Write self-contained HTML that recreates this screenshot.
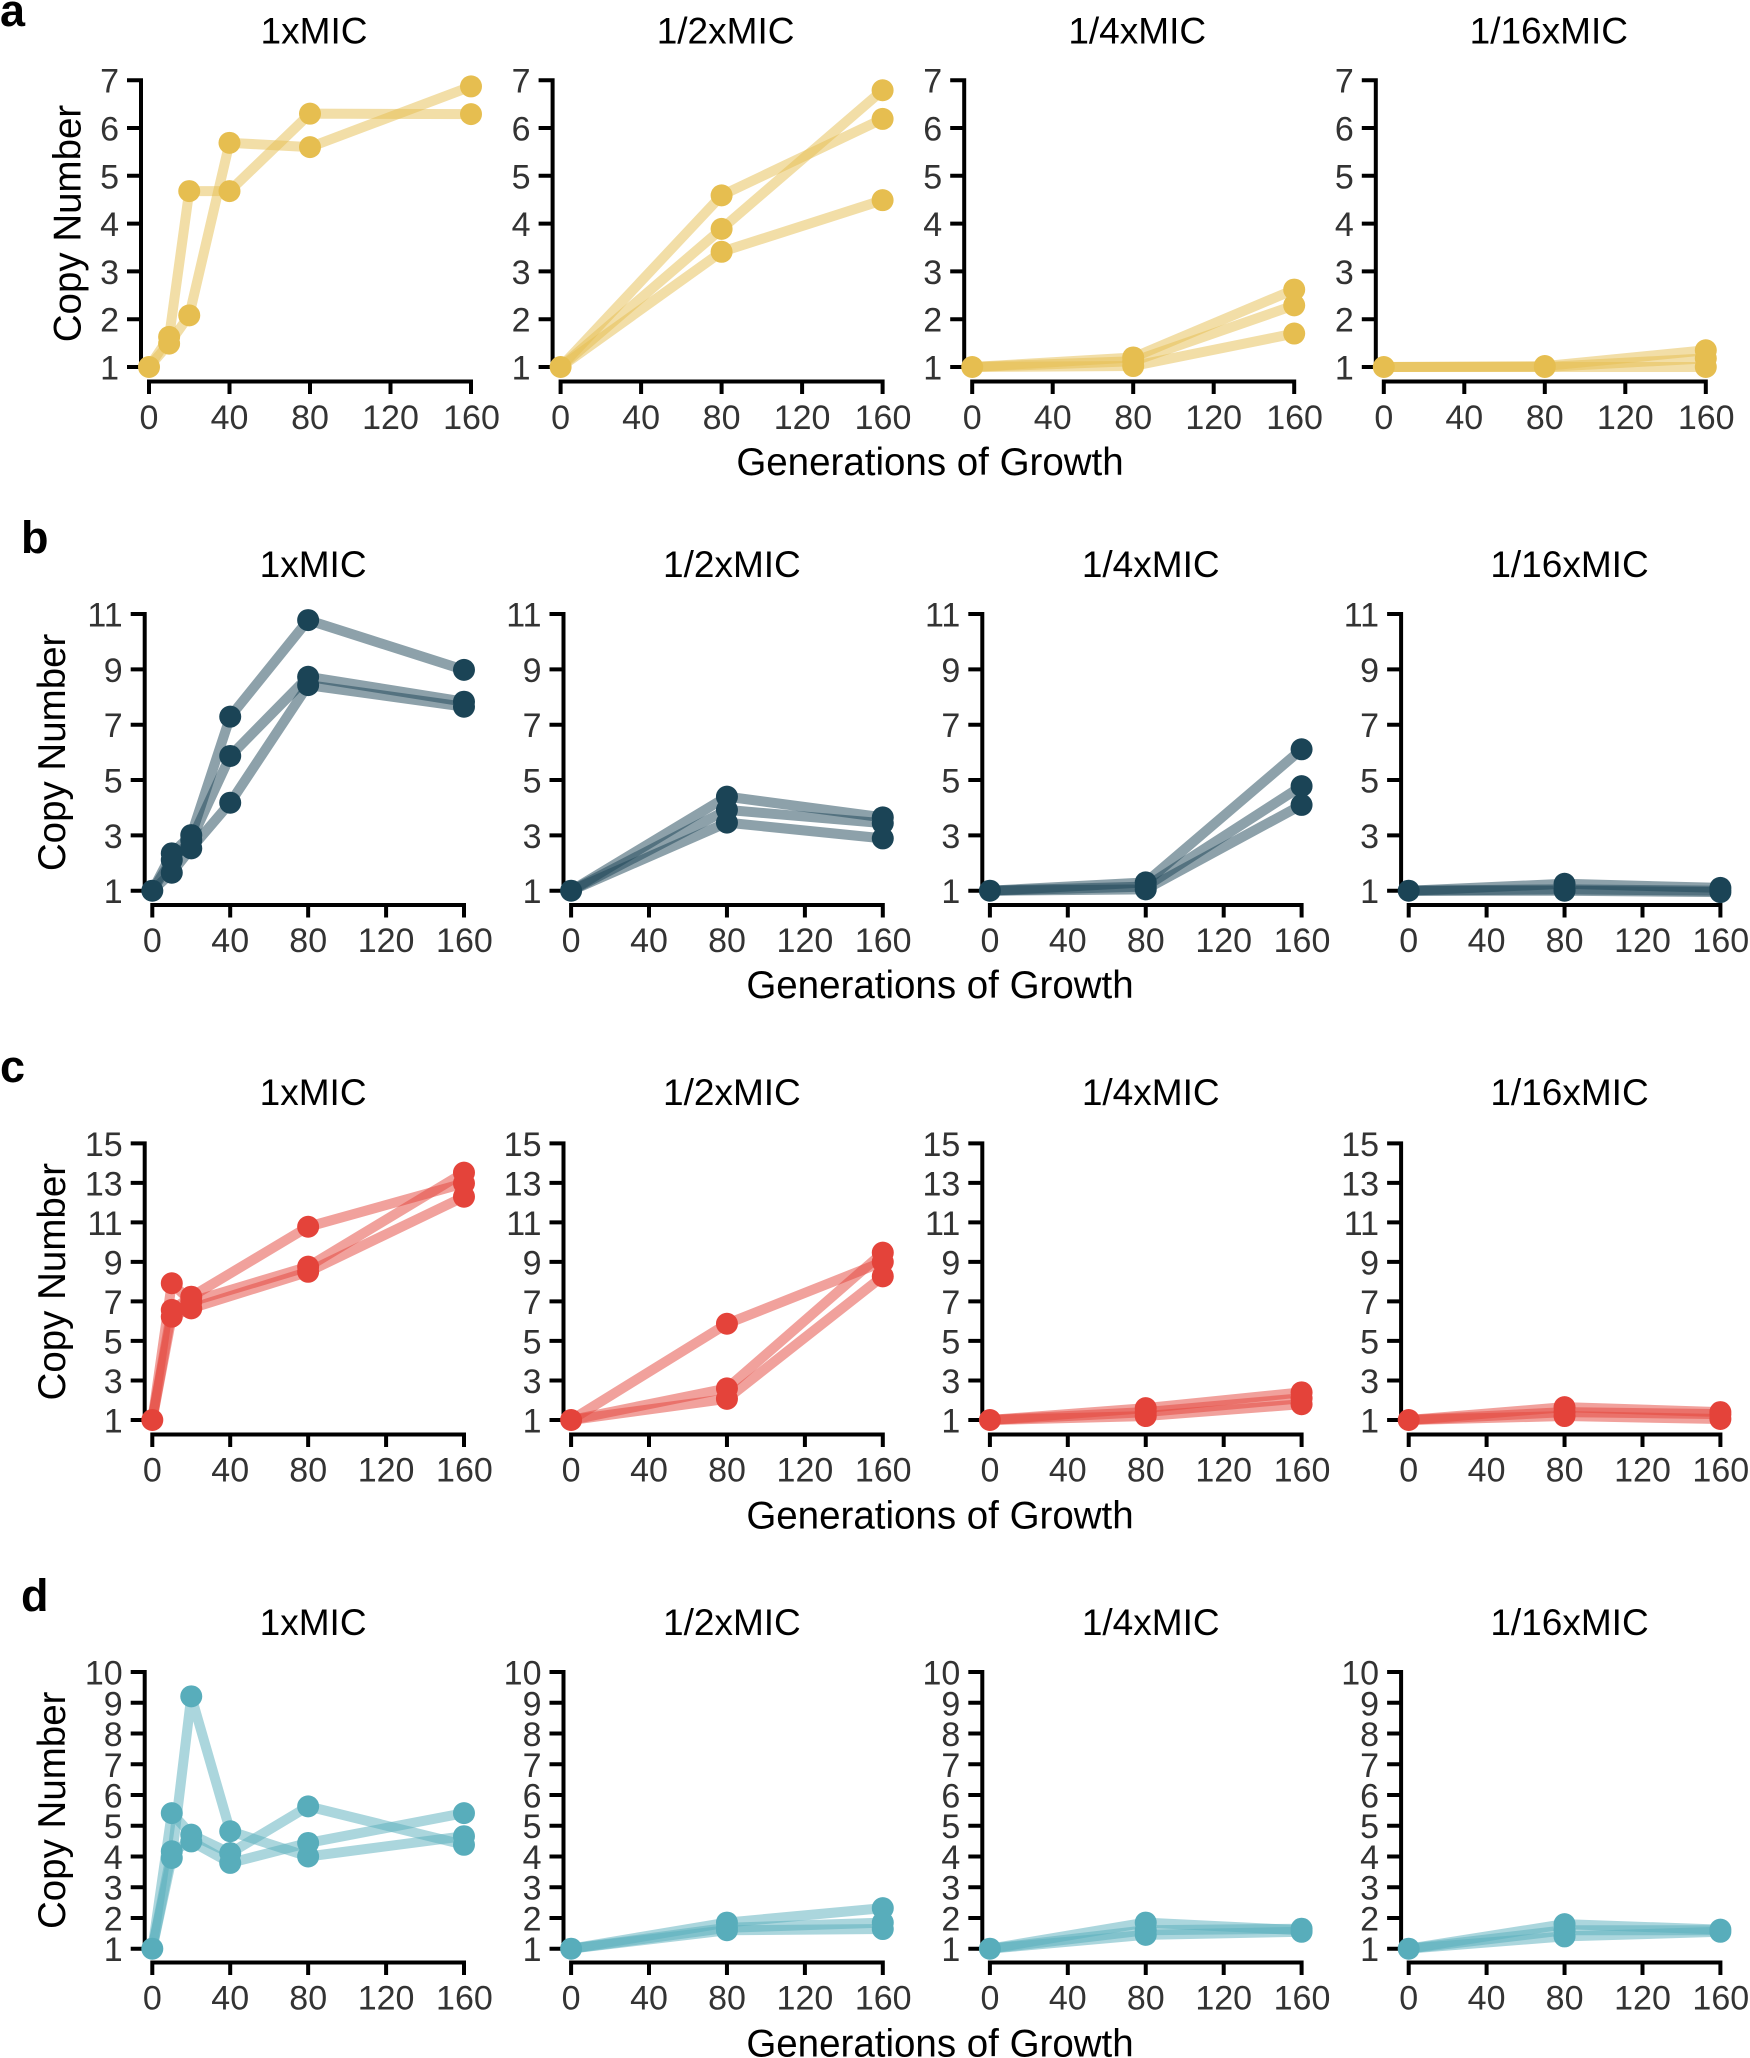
<!DOCTYPE html>
<html><head><meta charset="utf-8">
<style>
html,body{margin:0;padding:0;background:#fff}
svg{display:block}
.l{fill:none;stroke-width:10;stroke-opacity:.5;stroke-linejoin:round;stroke-linecap:round;vector-effect:non-scaling-stroke}
.m{fill:none;stroke-width:22;stroke-linecap:round;vector-effect:non-scaling-stroke}
.ax{fill:none;stroke:#000;stroke-width:4;stroke-linecap:square}
.t{font-family:"Liberation Sans",Arial,sans-serif;font-size:34px;fill:#333}
.ty{text-anchor:end}
.tx{text-anchor:middle}
.h{font-family:"Liberation Sans",Arial,sans-serif;font-size:37px;fill:#000;text-anchor:middle}
.g{font-family:"Liberation Sans",Arial,sans-serif;font-size:38.5px;fill:#000;text-anchor:middle}
.lab{font-family:"Liberation Sans",Arial,sans-serif;font-size:45px;font-weight:bold;fill:#000}
</style></head>
<body>
<svg width="1750" height="2058" viewBox="0 0 1750 2058" xmlns="http://www.w3.org/2000/svg">
<defs>
<path id="axA" class="ax" d="M-8 80.2V367 M-20 80.2H-8 M-20 128H-8 M-20 175.8H-8 M-20 223.6H-8 M-20 271.4H-8 M-20 319.2H-8 M-20 367H-8 M0 381.5H322 M0 381.5V392 M80.5 381.5V392 M161 381.5V392 M241.5 381.5V392 M322 381.5V392"/>
<path id="axB" class="ax" d="M-7.6 614V890.7 M-19.6 614H-7.6 M-19.6 669.4H-7.6 M-19.6 724.7H-7.6 M-19.6 780H-7.6 M-19.6 835.4H-7.6 M-19.6 890.7H-7.6 M0 905H311.7 M0 905V915.5 M77.9 905V915.5 M155.85 905V915.5 M233.8 905V915.5 M311.7 905V915.5"/>
<path id="axC" class="ax" d="M-7.6 1143.4V1420 M-19.6 1143.4H-7.6 M-19.6 1182.9H-7.6 M-19.6 1222.4H-7.6 M-19.6 1261.9H-7.6 M-19.6 1301.4H-7.6 M-19.6 1340.9H-7.6 M-19.6 1380.5H-7.6 M-19.6 1420H-7.6 M0 1434.5H311.7 M0 1434.5V1445 M77.9 1434.5V1445 M155.85 1434.5V1445 M233.8 1434.5V1445 M311.7 1434.5V1445"/>
<path id="axD" class="ax" d="M-7.6 1672V1948.7 M-19.6 1672H-7.6 M-19.6 1702.8H-7.6 M-19.6 1733.5H-7.6 M-19.6 1764.3H-7.6 M-19.6 1795H-7.6 M-19.6 1825.7H-7.6 M-19.6 1856.5H-7.6 M-19.6 1887.2H-7.6 M-19.6 1918H-7.6 M-19.6 1948.7H-7.6 M0 1962.5H311.7 M0 1962.5V1973 M77.9 1962.5V1973 M155.85 1962.5V1973 M233.8 1962.5V1973 M311.7 1962.5V1973"/>
</defs>

<text class="lab" x="0" y="26">a</text>
<text class="lab" x="21" y="553">b</text>
<text class="lab" x="0" y="1082">c</text>
<text class="lab" x="21" y="1611">d</text>

<!-- ================= ROW A ================= -->
<use href="#axA" x="149"/>
<use href="#axA" x="560.6"/>
<use href="#axA" x="972.2"/>
<use href="#axA" x="1383.8"/>

<text class="h" x="314" y="43.5">1xMIC</text>
<text class="h" x="725.6" y="43.5">1/2xMIC</text>
<text class="h" x="1137.2" y="43.5">1/4xMIC</text>
<text class="h" x="1548.8" y="43.5">1/16xMIC</text>

<text class="g" transform="translate(80.4,223.5) rotate(-90)">Copy Number</text>
<text class="g" x="930" y="475">Generations of Growth</text>

<g class="t ty">
<text x="119" y="379.5">1</text><text x="119" y="331.7">2</text><text x="119" y="283.9">3</text><text x="119" y="236.1">4</text><text x="119" y="188.3">5</text><text x="119" y="140.5">6</text><text x="119" y="92.7">7</text>
<text x="530.6" y="379.5">1</text><text x="530.6" y="331.7">2</text><text x="530.6" y="283.9">3</text><text x="530.6" y="236.1">4</text><text x="530.6" y="188.3">5</text><text x="530.6" y="140.5">6</text><text x="530.6" y="92.7">7</text>
<text x="942.2" y="379.5">1</text><text x="942.2" y="331.7">2</text><text x="942.2" y="283.9">3</text><text x="942.2" y="236.1">4</text><text x="942.2" y="188.3">5</text><text x="942.2" y="140.5">6</text><text x="942.2" y="92.7">7</text>
<text x="1353.8" y="379.5">1</text><text x="1353.8" y="331.7">2</text><text x="1353.8" y="283.9">3</text><text x="1353.8" y="236.1">4</text><text x="1353.8" y="188.3">5</text><text x="1353.8" y="140.5">6</text><text x="1353.8" y="92.7">7</text>
</g>
<g class="t tx">
<text x="149" y="429">0</text><text x="229.5" y="429">40</text><text x="310" y="429">80</text><text x="390.5" y="429">120</text><text x="471.5" y="429">160</text>
<text x="560.6" y="429">0</text><text x="641.1" y="429">40</text><text x="721.6" y="429">80</text><text x="802.1" y="429">120</text><text x="883" y="429">160</text>
<text x="972.2" y="429">0</text><text x="1052.7" y="429">40</text><text x="1133.2" y="429">80</text><text x="1213.7" y="429">120</text><text x="1294.6" y="429">160</text>
<text x="1383.8" y="429">0</text><text x="1464.3" y="429">40</text><text x="1544.8" y="429">80</text><text x="1625.3" y="429">120</text><text x="1706.2" y="429">160</text>
</g>

<g stroke="#E6BE50">
<g transform="translate(149,367) scale(2.0125,-47.8)">
<polyline class="l" points="0,0 10,.63 20,3.68 40,3.68 80,5.3 160,5.29"/>
<polyline class="l" points="0,0 10,.49 20,1.08 40,4.69 80,4.6 160,5.87"/>
<path class="m" d="M0 0h0M10 .63h0M20 3.68h0M40 3.68h0M80 5.3h0M160 5.29h0M10 .49h0M20 1.08h0M40 4.69h0M80 4.6h0M160 5.87h0"/>
</g>
<g transform="translate(560.6,367) scale(2.0125,-47.8)">
<polyline class="l" points="0,0 80,3.59 160,5.19"/>
<polyline class="l" points="0,0 80,2.89 160,5.79"/>
<polyline class="l" points="0,0 80,2.41 160,3.49"/>
<path class="m" d="M0 0h0M80 3.59h0M160 5.19h0M80 2.89h0M160 5.79h0M80 2.41h0M160 3.49h0"/>
</g>
<g transform="translate(972.2,367) scale(2.0125,-47.8)">
<polyline class="l" points="0,0 80,.2 160,1.62"/>
<polyline class="l" points="0,0 80,.12 160,1.29"/>
<polyline class="l" points="0,0 80,.02 160,.7"/>
<path class="m" d="M0 0h0M80 .2h0M160 1.62h0M80 .12h0M160 1.29h0M80 .02h0M160 .7h0"/>
</g>
<g transform="translate(1383.8,367) scale(2.0125,-47.8)">
<polyline class="l" points="0,0 80,.02 160,.35"/>
<polyline class="l" points="0,0 80,0 160,.18"/>
<polyline class="l" points="0,0 80,0 160,0"/>
<path class="m" d="M0 0h0M80 .02h0M160 .35h0M80 0h0M160 .18h0M160 0h0"/>
</g>
</g>

<!-- ================= ROW B ================= -->
<use href="#axB" x="152.3"/>
<use href="#axB" x="571.1"/>
<use href="#axB" x="989.9"/>
<use href="#axB" x="1408.7"/>

<text class="h" x="313.1" y="577">1xMIC</text>
<text class="h" x="731.9" y="577">1/2xMIC</text>
<text class="h" x="1150.7" y="577">1/4xMIC</text>
<text class="h" x="1569.5" y="577">1/16xMIC</text>

<text class="g" transform="translate(65,752.4) rotate(-90)">Copy Number</text>
<text class="g" x="940" y="998">Generations of Growth</text>

<g class="t ty">
<text x="122.7" y="903.2">1</text><text x="122.7" y="847.9">3</text><text x="122.7" y="792.5">5</text><text x="122.7" y="737.2">7</text><text x="122.7" y="681.9">9</text><text x="122.7" y="626.5">11</text>
<text x="541.5" y="903.2">1</text><text x="541.5" y="847.9">3</text><text x="541.5" y="792.5">5</text><text x="541.5" y="737.2">7</text><text x="541.5" y="681.9">9</text><text x="541.5" y="626.5">11</text>
<text x="960.3" y="903.2">1</text><text x="960.3" y="847.9">3</text><text x="960.3" y="792.5">5</text><text x="960.3" y="737.2">7</text><text x="960.3" y="681.9">9</text><text x="960.3" y="626.5">11</text>
<text x="1379.1" y="903.2">1</text><text x="1379.1" y="847.9">3</text><text x="1379.1" y="792.5">5</text><text x="1379.1" y="737.2">7</text><text x="1379.1" y="681.9">9</text><text x="1379.1" y="626.5">11</text>
</g>
<g class="t tx">
<text x="152.3" y="952">0</text><text x="230.2" y="952">40</text><text x="308.2" y="952">80</text><text x="386.1" y="952">120</text><text x="464.4" y="952">160</text>
<text x="571.1" y="952">0</text><text x="649" y="952">40</text><text x="727" y="952">80</text><text x="804.9" y="952">120</text><text x="883.2" y="952">160</text>
<text x="989.9" y="952">0</text><text x="1067.8" y="952">40</text><text x="1145.8" y="952">80</text><text x="1223.7" y="952">120</text><text x="1302" y="952">160</text>
<text x="1408.7" y="952">0</text><text x="1486.6" y="952">40</text><text x="1564.6" y="952">80</text><text x="1642.5" y="952">120</text><text x="1720.8" y="952">160</text>
</g>

<g stroke="#1B4456">
<g transform="translate(152.3,890.7) scale(1.948,-27.67)">
<polyline class="l" points="0,0 10,1.35 20,2.01 40,6.29 80,9.78 160,7.98"/>
<polyline class="l" points="0,0 10,1.11 20,1.83 40,4.87 80,7.73 160,6.83"/>
<polyline class="l" points="0,0 10,.65 20,1.53 40,3.18 80,7.43 160,6.65"/>
<path class="m" d="M0 0h0M10 1.35h0M20 2.01h0M40 6.29h0M80 9.78h0M160 7.98h0M10 1.11h0M20 1.83h0M40 4.87h0M80 7.73h0M160 6.83h0M10 .65h0M20 1.53h0M40 3.18h0M80 7.43h0M160 6.65h0"/>
</g>
<g transform="translate(571.1,890.7) scale(1.948,-27.67)">
<polyline class="l" points="0,0 80,3.4 160,2.65"/>
<polyline class="l" points="0,0 80,2.92 160,2.44"/>
<polyline class="l" points="0,0 80,2.46 160,1.89"/>
<path class="m" d="M0 0h0M80 3.4h0M160 2.65h0M80 2.92h0M160 2.44h0M80 2.46h0M160 1.89h0"/>
</g>
<g transform="translate(989.9,890.7) scale(1.948,-27.67)">
<polyline class="l" points="0,0 80,.3 160,5.11"/>
<polyline class="l" points="0,0 80,.15 160,3.78"/>
<polyline class="l" points="0,0 80,.05 160,3.1"/>
<path class="m" d="M0 0h0M80 .3h0M160 5.11h0M80 .15h0M160 3.78h0M80 .05h0M160 3.1h0"/>
</g>
<g transform="translate(1408.7,890.7) scale(1.948,-27.67)">
<polyline class="l" points="0,0 80,.25 160,.1"/>
<polyline class="l" points="0,0 80,.05 160,0"/>
<polyline class="l" points="0,0 80,0 160,-.05"/>
<path class="m" d="M0 0h0M80 .25h0M160 .1h0M80 .05h0M160 0h0M80 0h0M160 -.05h0"/>
</g>
</g>

<!-- ================= ROW C ================= -->
<use href="#axC" x="152.3"/>
<use href="#axC" x="571.1"/>
<use href="#axC" x="989.9"/>
<use href="#axC" x="1408.7"/>

<text class="h" x="313.1" y="1105">1xMIC</text>
<text class="h" x="731.9" y="1105">1/2xMIC</text>
<text class="h" x="1150.7" y="1105">1/4xMIC</text>
<text class="h" x="1569.5" y="1105">1/16xMIC</text>

<text class="g" transform="translate(65,1281.7) rotate(-90)">Copy Number</text>
<text class="g" x="940" y="1528.5">Generations of Growth</text>

<g class="t ty">
<text x="122.7" y="1432.5">1</text><text x="122.7" y="1393">3</text><text x="122.7" y="1353.4">5</text><text x="122.7" y="1313.9">7</text><text x="122.7" y="1274.4">9</text><text x="122.7" y="1234.9">11</text><text x="122.7" y="1195.4">13</text><text x="122.7" y="1155.9">15</text>
<text x="541.5" y="1432.5">1</text><text x="541.5" y="1393">3</text><text x="541.5" y="1353.4">5</text><text x="541.5" y="1313.9">7</text><text x="541.5" y="1274.4">9</text><text x="541.5" y="1234.9">11</text><text x="541.5" y="1195.4">13</text><text x="541.5" y="1155.9">15</text>
<text x="960.3" y="1432.5">1</text><text x="960.3" y="1393">3</text><text x="960.3" y="1353.4">5</text><text x="960.3" y="1313.9">7</text><text x="960.3" y="1274.4">9</text><text x="960.3" y="1234.9">11</text><text x="960.3" y="1195.4">13</text><text x="960.3" y="1155.9">15</text>
<text x="1379.1" y="1432.5">1</text><text x="1379.1" y="1393">3</text><text x="1379.1" y="1353.4">5</text><text x="1379.1" y="1313.9">7</text><text x="1379.1" y="1274.4">9</text><text x="1379.1" y="1234.9">11</text><text x="1379.1" y="1195.4">13</text><text x="1379.1" y="1155.9">15</text>
</g>
<g class="t tx">
<text x="152.3" y="1481.5">0</text><text x="230.2" y="1481.5">40</text><text x="308.2" y="1481.5">80</text><text x="386.1" y="1481.5">120</text><text x="464.4" y="1481.5">160</text>
<text x="571.1" y="1481.5">0</text><text x="649" y="1481.5">40</text><text x="727" y="1481.5">80</text><text x="804.9" y="1481.5">120</text><text x="883.2" y="1481.5">160</text>
<text x="989.9" y="1481.5">0</text><text x="1067.8" y="1481.5">40</text><text x="1145.8" y="1481.5">80</text><text x="1223.7" y="1481.5">120</text><text x="1302" y="1481.5">160</text>
<text x="1408.7" y="1481.5">0</text><text x="1486.6" y="1481.5">40</text><text x="1564.6" y="1481.5">80</text><text x="1642.5" y="1481.5">120</text><text x="1720.8" y="1481.5">160</text>
</g>

<g stroke="#E4433A">
<g transform="translate(152.3,1420) scale(1.948,-19.76)">
<polyline class="l" points="0,0 10,6.92 20,5.99 80,7.76 160,12.52"/>
<polyline class="l" points="0,0 10,5.57 20,6.24 80,9.78 160,11.98"/>
<polyline class="l" points="0,0 10,5.23 20,5.65 80,7.5 160,11.3"/>
<path class="m" d="M0 0h0M10 6.92h0M20 5.99h0M80 7.76h0M160 12.52h0M10 5.57h0M20 6.24h0M80 9.78h0M160 11.98h0M10 5.23h0M20 5.65h0M80 7.5h0M160 11.3h0"/>
</g>
<g transform="translate(571.1,1420) scale(1.948,-19.76)">
<polyline class="l" points="0,0 80,4.87 160,8"/>
<polyline class="l" points="0,0 80,1.6 160,8.47"/>
<polyline class="l" points="0,0 80,1.07 160,7.27"/>
<path class="m" d="M0 0h0M80 4.87h0M160 8h0M80 1.6h0M160 8.47h0M80 1.07h0M160 7.27h0"/>
</g>
<g transform="translate(989.9,1420) scale(1.948,-19.76)">
<polyline class="l" points="0,0 80,.6 160,1.4"/>
<polyline class="l" points="0,0 80,.4 160,1.1"/>
<polyline class="l" points="0,0 80,.2 160,.8"/>
<path class="m" d="M0 0h0M80 .6h0M160 1.4h0M80 .4h0M160 1.1h0M80 .2h0M160 .8h0"/>
</g>
<g transform="translate(1408.7,1420) scale(1.948,-19.76)">
<polyline class="l" points="0,0 80,.65 160,.4"/>
<polyline class="l" points="0,0 80,.4 160,.3"/>
<polyline class="l" points="0,0 80,.2 160,.05"/>
<path class="m" d="M0 0h0M80 .65h0M160 .4h0M80 .4h0M160 .3h0M80 .2h0M160 .05h0"/>
</g>
</g>

<!-- ================= ROW D ================= -->
<use href="#axD" x="152.3"/>
<use href="#axD" x="571.1"/>
<use href="#axD" x="989.9"/>
<use href="#axD" x="1408.7"/>

<text class="h" x="313.1" y="1635">1xMIC</text>
<text class="h" x="731.9" y="1635">1/2xMIC</text>
<text class="h" x="1150.7" y="1635">1/4xMIC</text>
<text class="h" x="1569.5" y="1635">1/16xMIC</text>

<text class="g" transform="translate(65,1810.3) rotate(-90)">Copy Number</text>
<text class="g" x="940" y="2056.5">Generations of Growth</text>

<g class="t ty">
<text x="122.7" y="1961.2">1</text><text x="122.7" y="1930.5">2</text><text x="122.7" y="1899.7">3</text><text x="122.7" y="1869">4</text><text x="122.7" y="1838.2">5</text><text x="122.7" y="1807.5">6</text><text x="122.7" y="1776.8">7</text><text x="122.7" y="1746">8</text><text x="122.7" y="1715.3">9</text><text x="122.7" y="1684.5">10</text>
<text x="541.5" y="1961.2">1</text><text x="541.5" y="1930.5">2</text><text x="541.5" y="1899.7">3</text><text x="541.5" y="1869">4</text><text x="541.5" y="1838.2">5</text><text x="541.5" y="1807.5">6</text><text x="541.5" y="1776.8">7</text><text x="541.5" y="1746">8</text><text x="541.5" y="1715.3">9</text><text x="541.5" y="1684.5">10</text>
<text x="960.3" y="1961.2">1</text><text x="960.3" y="1930.5">2</text><text x="960.3" y="1899.7">3</text><text x="960.3" y="1869">4</text><text x="960.3" y="1838.2">5</text><text x="960.3" y="1807.5">6</text><text x="960.3" y="1776.8">7</text><text x="960.3" y="1746">8</text><text x="960.3" y="1715.3">9</text><text x="960.3" y="1684.5">10</text>
<text x="1379.1" y="1961.2">1</text><text x="1379.1" y="1930.5">2</text><text x="1379.1" y="1899.7">3</text><text x="1379.1" y="1869">4</text><text x="1379.1" y="1838.2">5</text><text x="1379.1" y="1807.5">6</text><text x="1379.1" y="1776.8">7</text><text x="1379.1" y="1746">8</text><text x="1379.1" y="1715.3">9</text><text x="1379.1" y="1684.5">10</text>
</g>
<g class="t tx">
<text x="152.3" y="2009.5">0</text><text x="230.2" y="2009.5">40</text><text x="308.2" y="2009.5">80</text><text x="386.1" y="2009.5">120</text><text x="464.4" y="2009.5">160</text>
<text x="571.1" y="2009.5">0</text><text x="649" y="2009.5">40</text><text x="727" y="2009.5">80</text><text x="804.9" y="2009.5">120</text><text x="883.2" y="2009.5">160</text>
<text x="989.9" y="2009.5">0</text><text x="1067.8" y="2009.5">40</text><text x="1145.8" y="2009.5">80</text><text x="1223.7" y="2009.5">120</text><text x="1302" y="2009.5">160</text>
<text x="1408.7" y="2009.5">0</text><text x="1486.6" y="2009.5">40</text><text x="1564.6" y="2009.5">80</text><text x="1642.5" y="2009.5">120</text><text x="1720.8" y="2009.5">160</text>
</g>

<g stroke="#58ADBB">
<g transform="translate(152.3,1948.7) scale(1.948,-30.74)">
<polyline class="l" points="0,0 10,2.95 20,8.21 40,3.82 80,3 160,3.66"/>
<polyline class="l" points="0,0 10,4.41 20,3.71 40,3.11 80,4.63 160,3.38"/>
<polyline class="l" points="0,0 10,3.17 20,3.49 40,2.79 80,3.44 160,4.41"/>
<path class="m" d="M0 0h0M10 2.95h0M20 8.21h0M40 3.82h0M80 3h0M160 3.66h0M10 4.41h0M20 3.71h0M40 3.11h0M80 4.63h0M160 3.38h0M10 3.17h0M20 3.49h0M40 2.79h0M80 3.44h0M160 4.41h0"/>
</g>
<g transform="translate(571.1,1948.7) scale(1.948,-30.74)">
<polyline class="l" points="0,0 80,.85 160,1.32"/>
<polyline class="l" points="0,0 80,.68 160,.85"/>
<polyline class="l" points="0,0 80,.6 160,.64"/>
<path class="m" d="M0 0h0M80 .85h0M160 1.32h0M80 .68h0M160 .85h0M80 .6h0M160 .64h0"/>
</g>
<g transform="translate(989.9,1948.7) scale(1.948,-30.74)">
<polyline class="l" points="0,0 80,.85 160,.6"/>
<polyline class="l" points="0,0 80,.6 160,.65"/>
<polyline class="l" points="0,0 80,.45 160,.55"/>
<path class="m" d="M0 0h0M80 .85h0M160 .6h0M80 .6h0M160 .65h0M80 .45h0M160 .55h0"/>
</g>
<g transform="translate(1408.7,1948.7) scale(1.948,-30.74)">
<polyline class="l" points="0,0 80,.8 160,.62"/>
<polyline class="l" points="0,0 80,.6 160,.6"/>
<polyline class="l" points="0,0 80,.4 160,.55"/>
<path class="m" d="M0 0h0M80 .8h0M160 .62h0M80 .6h0M160 .6h0M80 .4h0M160 .55h0"/>
</g>
</g>
</svg>
</body></html>
